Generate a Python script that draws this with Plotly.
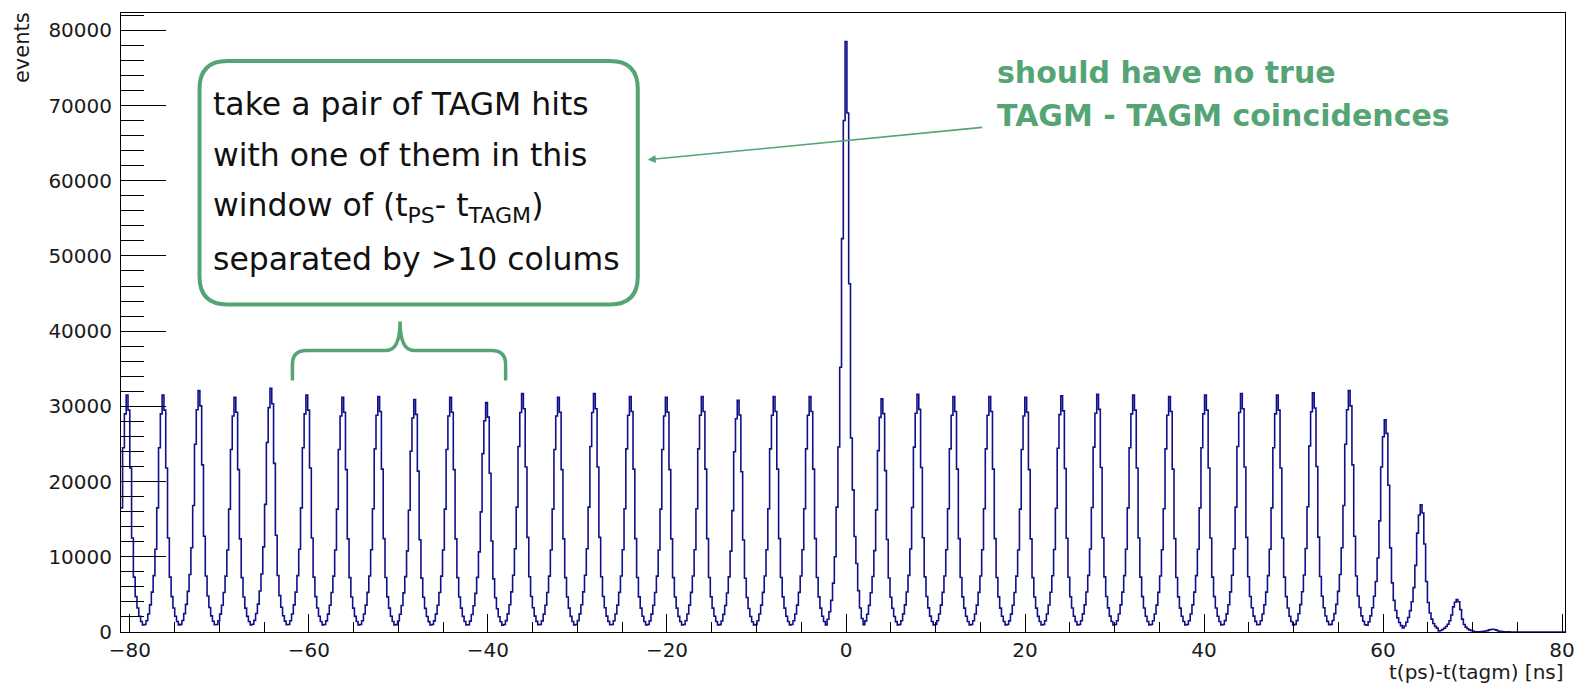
import plotly.graph_objects as go

# ---------------- data ----------------
bin_width_ns = 0.2008          # 20 bins per RF period (~4.016 ns)
first_bin, last_bin = -403, 400
peak_numbers = list(range(-20, 21))   # peak n sits at n*20 bins
peak_heights = [31500, 31500, 32100, 31200, 32400, 31500, 31200, 31300, 30900, 31200,
                30500, 31700, 31200, 31700, 31300, 31200, 31300, 30800, 31300, 31300,
                78500,
                31000, 31600, 31300, 31300, 31200, 31400, 31600, 31500, 31300, 31500,
                31700, 31500, 31800, 32100, 28200, 16900, 4300, 360, 0, 0]
profile_offsets = list(range(-10, 10))   # bin offsets from peak centre
side_peak_profile = [1000, 1500, 2400, 3600, 5300, 7500, 11000, 16500, 24500, 29000,
                     31500, 29500, 21800, 12500, 7300, 4700, 3200, 2100, 1400, 950]
central_peak_profile = [1700, 2700, 4200, 6500, 10000, 16600, 24600, 35200, 52300, 68000,
                        78500, 69000, 46300, 25800, 18900, 12700, 9100, 5500, 3200, 1800]

x_tick_vals = [-80, -60, -40, -20, 0, 20, 40, 60, 80]
y_tick_vals = [0, 10000, 20000, 30000, 40000, 50000, 60000, 70000, 80000]
y_tick_text = [str(v) for v in y_tick_vals]
x_range = [-81.0, 80.33]
y_range = [0, 82300]

box_lines = ["take a pair of TAGM hits",
             "with one of them in this",
             "window of (t<sub>PS</sub>- t<sub>TAGM</sub>)",
             "separated by >10 colums"]
note_lines = ["should have no true", "TAGM - TAGM coincidences"]

# ---------------- build histogram from read values ----------------
edges, counts = [], []
for j in range(first_bin, last_bin + 1):
    n = (j + 10) // 20
    k = j - 20 * n
    idx = profile_offsets.index(k)
    if n == 0:
        c = central_peak_profile[idx]
    else:
        c = side_peak_profile[idx] * peak_heights[peak_numbers.index(n)] / side_peak_profile[10]
    edges.append((j - 0.5) * bin_width_ns)
    counts.append(c)
edges.append((last_bin + 0.5) * bin_width_ns)
counts.append(counts[-1])

# ---------------- figure ----------------
W, H = 1587, 688
L, R, T, B = 121, 1574, 12, 632
PW, PH = R - L, B - T


def px(x):
    return (x - L) / PW


def py(y):
    return (B - y) / PH


GREEN = "#55a574"
TICKFONT = dict(family="DejaVu Sans", size=20, color="#1a1a1a")

fig = go.Figure()
fig.add_trace(go.Scatter(x=edges, y=counts, mode="lines",
                         line=dict(shape="hv", color="#10108a", width=1.6),
                         hoverinfo="skip", showlegend=False))

fig.update_layout(
    width=W, height=H, autosize=False,
    margin=dict(l=L, r=W - R, t=T, b=H - B, pad=0),
    paper_bgcolor="white", plot_bgcolor="white",
    showlegend=False,
)
fig.update_xaxes(
    range=x_range, tickvals=x_tick_vals, ticks="inside", ticklen=18, tickwidth=1,
    tickcolor="black", showline=True, linecolor="black", linewidth=1, mirror=True,
    showgrid=False, zeroline=False, tickfont=TICKFONT,
    minor=dict(dtick=5, tick0=0, ticks="inside", ticklen=10, tickwidth=1,
               tickcolor="black", showgrid=False),
)
fig.update_yaxes(
    range=y_range, tickvals=y_tick_vals, ticktext=y_tick_text, ticks="inside",
    ticklen=45, tickwidth=1,
    tickcolor="black", showline=True, linecolor="black", linewidth=1, mirror=True,
    showgrid=False, zeroline=False, tickfont=TICKFONT, ticklabelstandoff=4,
    minor=dict(dtick=2000, tick0=0, ticks="inside", ticklen=23, tickwidth=1,
               tickcolor="black", showgrid=False),
)

# axis titles (ROOT style)
fig.add_annotation(text="t(ps)-t(tagm) [ns]", xref="paper", yref="paper",
                   x=px(1575), y=py(672), xanchor="right", yanchor="middle",
                   showarrow=False, font=dict(family="DejaVu Sans", size=20, color="#1a1a1a"))
fig.add_annotation(text="events", xref="paper", yref="paper", textangle=-90,
                   x=px(21), y=py(9), xanchor="center", yanchor="top",
                   showarrow=False, font=dict(family="DejaVu Sans", size=21, color="#1a1a1a"))

# rounded box
x0, x1, y0, y1, r = 200, 641, 60, 304, 28
pts = (f"M {px(x0 + r)},{py(y0)} L {px(x1 - r)},{py(y0)} "
       f"Q {px(x1)},{py(y0)} {px(x1)},{py(y0 + r)} L {px(x1)},{py(y1 - r)} "
       f"Q {px(x1)},{py(y1)} {px(x1 - r)},{py(y1)} L {px(x0 + r)},{py(y1)} "
       f"Q {px(x0)},{py(y1)} {px(x0)},{py(y1 - r)} L {px(x0)},{py(y0 + r)} "
       f"Q {px(x0)},{py(y0)} {px(x0 + r)},{py(y0)} Z")
fig.add_shape(type="path", path=pts, xref="paper", yref="paper",
              line=dict(color=GREEN, width=4), fillcolor="white", layer="above")

# brace
bl, bc, br, by_end, by_bar, by_tip = 293.5, 401.8, 508, 380, 350, 321
brace = (f"M {px(bl)},{py(by_end)} L {px(bl)},{py(by_bar + 14)} "
         f"Q {px(bl)},{py(by_bar)} {px(bl + 14)},{py(by_bar)} "
         f"L {px(bc - 14)},{py(by_bar)} Q {px(bc)},{py(by_bar)} {px(bc)},{py(by_tip)} "
         f"Q {px(bc)},{py(by_bar)} {px(bc + 14)},{py(by_bar)} "
         f"L {px(br - 14)},{py(by_bar)} Q {px(br)},{py(by_bar)} {px(br)},{py(by_bar + 14)} "
         f"L {px(br)},{py(by_end)}")
fig.add_shape(type="path", path=brace, xref="paper", yref="paper",
              line=dict(color=GREEN, width=3.5), layer="above")

# box text
box_centers = [103, 154, 207, 258]
for txt, yc in zip(box_lines, box_centers):
    fig.add_annotation(text=txt, xref="paper", yref="paper", x=px(212), y=py(yc),
                       xanchor="left", yanchor="middle", showarrow=False,
                       font=dict(family="DejaVu Sans", size=31.5, color="#111111"))

# green note
for txt, yc in zip(note_lines, [72, 115]):
    fig.add_annotation(text="<b>" + txt + "</b>", xref="paper", yref="paper",
                       x=px(1000), y=py(yc), xanchor="left", yanchor="middle",
                       showarrow=False, font=dict(family="DejaVu Sans", size=30, color=GREEN))

# arrow
fig.add_annotation(text="", xref="paper", yref="paper", x=px(651), y=py(159),
                   axref="pixel", ayref="pixel", ax=987 - 651, ay=126.5 - 159,
                   showarrow=True, arrowhead=2, arrowsize=1, arrowwidth=1.6,
                   arrowcolor=GREEN)

fig.write_html("out.html", config={"displayModeBar": False},
               post_script="document.body.style.margin='0';document.body.style.overflow='hidden';")
